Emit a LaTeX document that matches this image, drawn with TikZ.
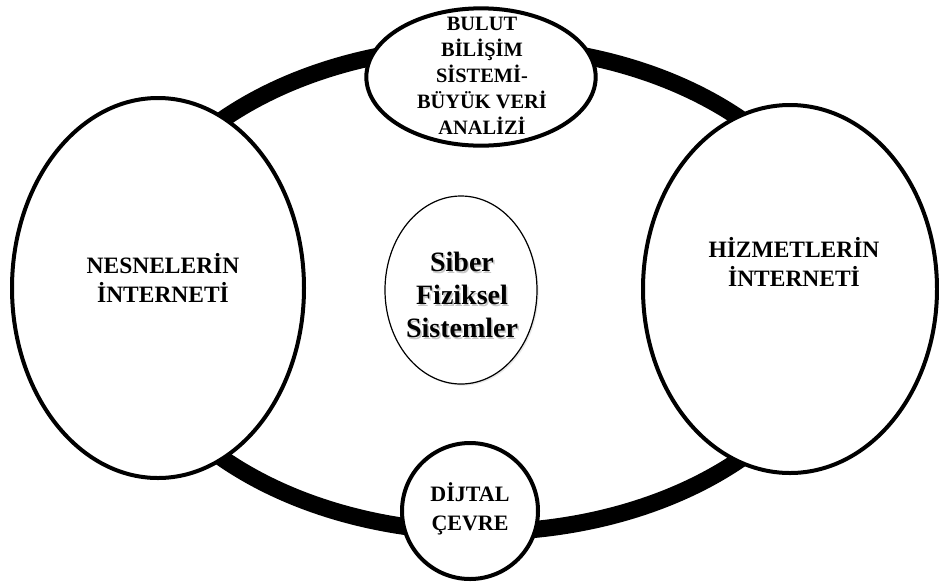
\documentclass[tikz,border=0pt]{standalone}
\usepackage{fontspec}
\setmainfont{Liberation Serif}
\usetikzlibrary{shapes.geometric,shadows}
\begin{document}
\begin{tikzpicture}[x=0.75pt,y=-0.75pt]
\tikzset{
  bubble/.style={ellipse, draw=black, line width=3pt, fill=white, inner sep=0pt},
  ringshape/.style={ellipse, draw=black, line width=12.75pt, inner sep=0pt},
  core/.style={ellipse, draw=black, line width=0.9pt, fill=white, inner sep=0pt,
    drop shadow={opacity=0.18, shadow xshift=1.2pt, shadow yshift=-1.2pt}},
  lbl/.style={align=center, font=\bfseries, inner sep=0pt}
}
\useasboundingbox (0,0) rectangle (939,583);
% ring connecting the parts
\node[ringshape, minimum width=543pt, minimum height=364.5pt] (ring) at (482,289) {};
% outer bubbles
\node[bubble, minimum width=172pt, minimum height=103pt] (cloud) at (481,77) {};
\node[bubble, minimum width=219pt, minimum height=285pt] (iot) at (158,288) {};
\node[bubble, minimum width=220.5pt, minimum height=276pt] (ios) at (790,289) {};
\node[bubble, minimum width=102pt, minimum height=102pt] (dig) at (470,511) {};
% centre
\node[core, minimum width=114pt, minimum height=141pt] (cps) at (461,290) {};
% labels
\node[lbl, font=\bfseries\fontsize{17.6}{21.75}\selectfont] (iott) at (163,278) {NESNELERİN\\İNTERNETİ};
\node[lbl, font=\bfseries\fontsize{17.6}{21.75}\selectfont] (iost) at (794,262) {HİZMETLERİN\\İNTERNETİ};
\node[lbl, font=\bfseries\fontsize{15.3}{19.5}\selectfont] (cloudt) at (482,76) {BULUT\\BİLİŞİM\\SİSTEMİ-\\BÜYÜK VERİ\\ANALİZİ};
\node[lbl, font=\bfseries\fontsize{16.5}{21.75}\selectfont] (digt) at (470,509) {DİJTAL\\ÇEVRE};
\node[lbl, text=black!22, font=\bfseries\fontsize{21}{24.75}\selectfont] (cpss) at (463.5,297) {Siber\\Fiziksel\\Sistemler};
\node[lbl, font=\bfseries\fontsize{21}{24.75}\selectfont] (cpst) at (462,295) {Siber\\Fiziksel\\Sistemler};
\end{tikzpicture}
\end{document}
